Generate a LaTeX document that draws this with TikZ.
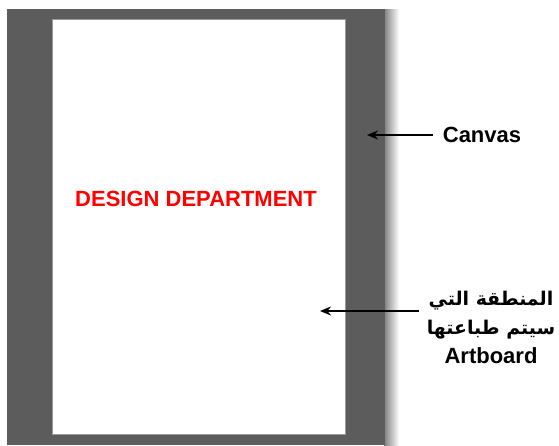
\documentclass[tikz,border=0pt]{standalone}
\usepackage{fontspec}
\setmainfont{Liberation Sans}
\newfontfamily\arabicfont[Script=Arabic,Scale=0.86]{DejaVu Sans}
\TeXXeTstate=1
\usetikzlibrary{arrows.meta,positioning}

\definecolor{canvasgray}{HTML}{5C5C5C}
\definecolor{titlered}{HTML}{FF0000}

\begin{document}
\begin{tikzpicture}[x=1pt,y=-1pt,
    canvasbox/.style={fill=canvasgray, draw=none, anchor=north west, inner sep=0pt},
    boardbox/.style={fill=white, draw=black!40, line width=0.7pt, anchor=north west, inner sep=0pt},
    note/.style={font=\bfseries\fontsize{22}{29}\selectfont, inner sep=2pt},
    pointer/.style={-{Stealth[length=11pt,width=9pt]}, line width=2pt}]
  \useasboundingbox (0,0) rectangle (559,445);
  % soft shadow on the right of the canvas
  \shade[left color=black!50, right color=white] (384,9) rectangle (399,445);
  % canvas and artboard
  \node[canvasbox, minimum width=378pt, minimum height=436pt] (canvas) at (7,9) {};
  \node[boardbox, minimum width=293pt, minimum height=415pt] (board) at (52,19) {};
  \node[note, text=titlered] (title) at (196,199) {DESIGN DEPARTMENT};
  % labels on the right
  \node[note] (canvaslabel) at (482,135) {Canvas};
  \node[note, align=center] (boardlabel) at (491,327)
    {{\arabicfont\beginR المنطقة التي\endR}\\
     {\arabicfont\beginR سيتم طباعتها\endR}\\
     Artboard};
  \coordinate (canvastip) at (367,135);
  \coordinate (boardtip) at (320,311);
  \draw[pointer] (canvaslabel.west) ++(-8,0) -- (canvastip);
  \draw[pointer] (boardlabel.west |- boardtip) ++(-6,0) -- (boardtip);
\end{tikzpicture}
\end{document}
